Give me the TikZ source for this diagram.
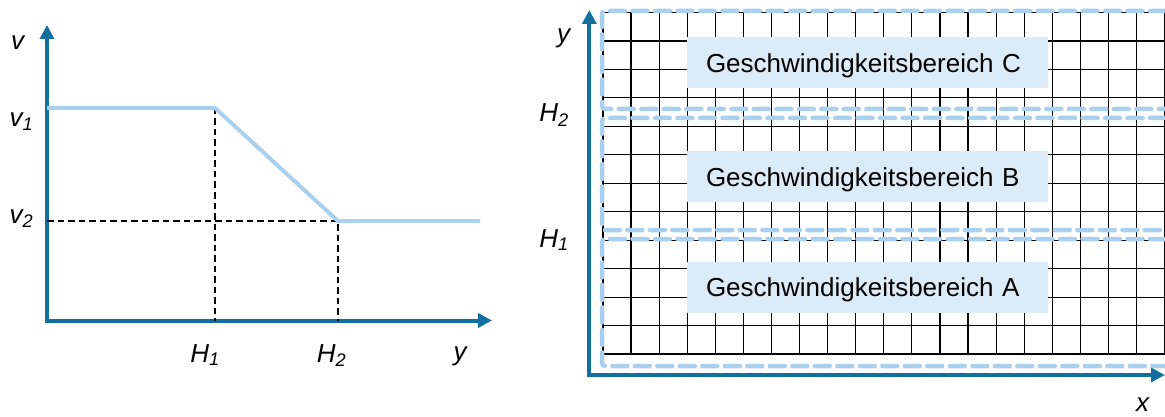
\documentclass[tikz,border=0pt]{standalone}
\usepackage{fontspec}
\setmainfont{Liberation Sans}
\usetikzlibrary{arrows.meta}
\usetikzlibrary{positioning}

\definecolor{axisblue}{RGB}{18,112,160}
\definecolor{curveblue}{RGB}{170,208,240}
\definecolor{boxblue}{RGB}{220,235,248}

\tikzset{
    axisline/.style={draw=axisblue, line width=4pt, line join=miter, {Triangle[width=14pt,length=14pt]}-{Triangle[width=14pt,length=14pt]}},
    curveline/.style={draw=curveblue, line width=4pt, line join=round},
    guideline/.style={draw=black, line width=1.3pt, dash pattern=on 6.5pt off 4pt},
    gridline/.style={draw=black, line width=1.2pt},
    regionline/.style={draw=curveblue, line width=4.5pt, dash pattern=on 15pt off 7.5pt, line cap=round, rounded corners=3pt},
    regionlabel/.style={rectangle, fill=boxblue, text width=323pt, inner xsep=19pt, inner ysep=0pt, minimum height=51pt, text height=19pt, text depth=0pt, align=left, font=\fontsize{26}{30}\selectfont},
    axislabel/.style={inner sep=0pt, anchor=base, font=\fontsize{26}{30}\selectfont\itshape}
}

\begin{document}
\begin{tikzpicture}[x=1pt, y=-1pt]
    \useasboundingbox (0,0) rectangle (1165,417);

    % left: speed over height
    \coordinate (origin) at (47,320.5);
    \coordinate (bendone) at (215,108);
    \coordinate (bendtwo) at (338,221);
    \draw [axisline] (47,25) -- (origin) -- (492,320.5);
    \draw [guideline] (bendone) -- (215,320.5);
    \draw [guideline] (47,221) -- (bendtwo) -- (338,320.5);
    \draw [curveline] (47,108) -- (bendone) -- (bendtwo) -- (480,221);

    \node [axislabel] (vlabel) at (17.5,50) {v};
    \node [axislabel] (vone) at (21.5,127) {v\textsubscript{1}};
    \node [axislabel] (vtwo) at (21.5,223) {v\textsubscript{2}};
    \node [axislabel] (hone) at (205,362) {H\textsubscript{1}};
    \node [axislabel] (htwo) at (331.5,362) {H\textsubscript{2}};
    \node [axislabel] (ylabel) at (460,360) {y};

    % right: grid with speed ranges
    \foreach \i in {0,...,20}
        \draw [gridline] ({603+28.08*\i},12.5) -- ({603+28.08*\i},354);
    \foreach \j in {0,...,12}
        \draw [gridline] (603,{12.5+28.46*\j}) -- (1164.6,{12.5+28.46*\j});

    \draw [regionline] (1165,11) -- (602,11) -- (602,109) -- (1165,109);
    \draw [regionline] (1165,118) -- (602,118) -- (602,230) -- (1165,230);
    \draw [regionline] (1165,239) -- (602,239) -- (602,366) -- (1165,366);

    \node [regionlabel] (rangeC) at (867.5,63) {Geschwindigkeitsbereich C};
    \node [regionlabel] (rangeB) at (867.5,176.5) {Geschwindigkeitsbereich B};
    \node [regionlabel] (rangeA) at (867.5,287) {Geschwindigkeitsbereich A};

    \draw [axisline] (589.3,10) -- (589.3,375) -- (1165,375);

    \node [axislabel] (yright) at (563.5,43) {y};
    \node [axislabel] (htworight) at (554,122) {H\textsubscript{2}};
    \node [axislabel] (honeright) at (554,247) {H\textsubscript{1}};
    \node [axislabel] (xlabel) at (1142.5,411) {x};
\end{tikzpicture}
\end{document}
